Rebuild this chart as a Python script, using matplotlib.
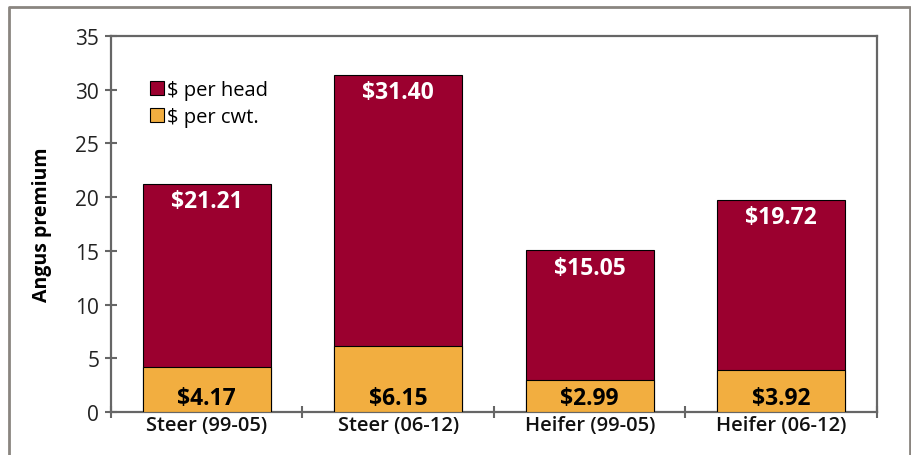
import numpy as np
import matplotlib.pyplot as plt
from matplotlib.lines import Line2D
from matplotlib.patches import Patch

plt.rcParams['font.family'] = ['Open Sans', 'DejaVu Sans']

categories = ['Steer (99-05)', 'Steer (06-12)', 'Heifer (99-05)', 'Heifer (06-12)']
perHead = [21.21, 31.40, 15.05, 19.72]
perCwt = [4.17, 6.15, 2.99, 3.92]
yTicks = [0, 5, 10, 15, 20, 25, 30, 35]

headColor = '#9b002f'
cwtColor = '#f2ae40'
axisGray = '#666666'

fig = plt.figure(figsize=(9.12, 4.56), dpi=100)
ax = fig.add_axes([0.1217, 0.0943, 0.8399, 0.8246])

x = np.arange(len(categories))
w = 0.67
ax.bar(x, perHead, w, color=headColor, edgecolor='black', linewidth=0.8, zorder=2)
ax.bar(x, perCwt, w, color=cwtColor, edgecolor='black', linewidth=0.8, zorder=3)

for i in range(len(categories)):
    ax.text(x[i], perHead[i] - 1.6, '\\$%.2f' % perHead[i], ha='center', va='center',
            color='white', fontsize=16.5, fontweight='bold', zorder=4)
    ax.text(x[i], 1.3, '\\$%.2f' % perCwt[i], ha='center', va='center',
            color='black', fontsize=16.5, fontweight='bold', zorder=4)

ax.set_xlim(-0.5, len(categories) - 0.5)
ax.set_ylim(0, 35)
ax.set_yticks(yTicks)
ax.set_yticklabels([str(t) for t in yTicks], fontsize=15, color='#222222')
ax.set_xticks(x)
ax.set_xticklabels(categories, fontsize=14.5, fontweight='semibold', color='#111111')
ax.tick_params(axis='x', length=0, pad=2)
ax.set_xticks(np.arange(-0.5, len(categories), 1), minor=True)
ax.tick_params(axis='x', which='minor', direction='inout', length=9, width=1.5, color=axisGray)
ax.tick_params(axis='y', direction='inout', length=9, width=1.5, color=axisGray, pad=4)

for s in ax.spines.values():
    s.set_color(axisGray)
    s.set_linewidth(1.6)

ax.set_ylabel('Angus premium', fontsize=14, fontweight='bold', labelpad=17)

handles = [Patch(facecolor=headColor, edgecolor='black', linewidth=0.8),
           Patch(facecolor=cwtColor, edgecolor='black', linewidth=0.8)]
ax.legend(handles, ['\\$ per head', '\\$ per cwt.'], loc='upper left', bbox_to_anchor=(0.04, 0.905),
          frameon=False, fontsize=14.5, handlelength=0.7, handleheight=0.7, handletextpad=0.15,
          labelspacing=0.35, borderaxespad=0)

# outer frame (left, top, right)
fx0, fx1, fy1 = 9 / 912, 910 / 912, 1 - 8 / 456
frameGray = '#8a8580'
fig.add_artist(Line2D([fx0, fx0, fx1, fx1], [0, fy1, fy1, 0], transform=fig.transFigure,
                      color=frameGray, linewidth=2))

fig.savefig('out.png', dpi=100)
